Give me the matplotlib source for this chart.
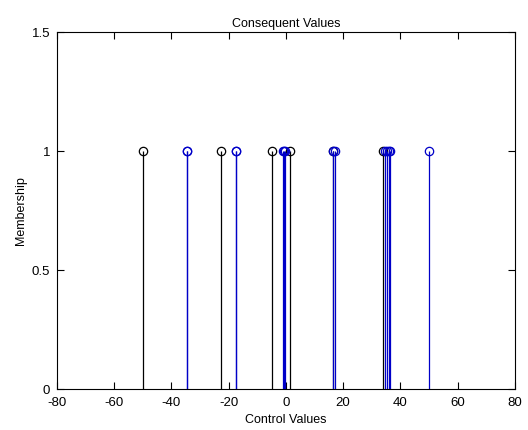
"""
Stem plot of consequent values (MATLAB-style look).
"""

import matplotlib

matplotlib.use("Agg")
import matplotlib.pyplot as plt  # noqa: E402

# consequent positions, all with membership 1
black_x = [-50.0, -22.8, -4.7, 1.3, 16.3, 34.0]
blue_x = [-34.7, -34.4, -17.6, -17.3, -1.0, -0.6, -0.3, 16.6, 17.0,
          34.8, 35.3, 36.0, 36.4, 50.0]
membership = 1.0

x_ticks = [-80, -60, -40, -20, 0, 20, 40, 60, 80]
y_ticks = [0, 0.5, 1, 1.5]
y_tick_labels = ["0", "0.5", "1", "1.5"]

plt.rcParams["font.family"] = ["Liberation Sans", "DejaVu Sans"]
plt.rcParams["font.size"] = 9


def draw_stems(ax, xs, color):
    ys = [membership] * len(xs)
    markers, stems, base = ax.stem(xs, ys, basefmt=" ")
    plt.setp(stems, color=color, linewidth=0.9)
    plt.setp(markers, marker="o", markersize=6, markerfacecolor="none",
             markeredgecolor=color, markeredgewidth=0.9)


fig = plt.figure(figsize=(5.28, 4.30), dpi=100, facecolor="white")
ax = fig.add_axes([0.108, 0.095, 0.867, 0.830])

draw_stems(ax, black_x, "black")
draw_stems(ax, blue_x, "#0000c8")

ax.set_xlim(-80, 80)
ax.set_ylim(0, 1.5)
ax.set_xticks(x_ticks)
ax.set_xticklabels([str(t) for t in x_ticks])
ax.set_yticks(y_ticks)
ax.set_yticklabels(y_tick_labels)
ax.tick_params(direction="in", length=5, width=0.8, top=True, right=True,
               colors="black", labelsize=9.5)
ax.tick_params(axis="x", pad=6)
ax.tick_params(axis="y", pad=5)
for spine in ax.spines.values():
    spine.set_linewidth(0.8)

ax.set_title("Consequent Values", pad=4, fontsize=9)
ax.set_xlabel("Control Values", labelpad=3)
ax.set_ylabel("Membership", labelpad=3)

fig.savefig("out.png", dpi=100, facecolor=fig.get_facecolor())
plt.close(fig)
